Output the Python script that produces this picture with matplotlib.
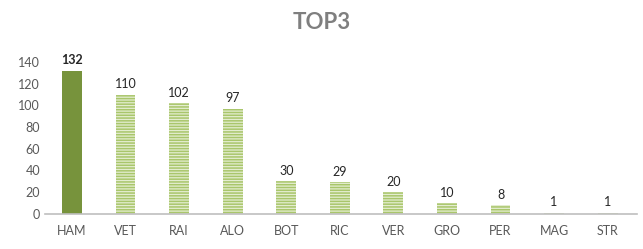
import matplotlib
matplotlib.use('Agg')
import matplotlib.pyplot as plt

# data
pilotes = ['HAM', 'VET', 'RAI', 'ALO', 'BOT', 'RIC', 'VER', 'GRO', 'PER', 'MAG', 'STR']
points = [132, 110, 102, 97, 30, 29, 20, 10, 8, 1, 1]
yticks = [0, 20, 40, 60, 80, 100, 120, 140]

plt.rcParams['font.family'] = ['Lato', 'DejaVu Sans']
plt.rcParams['hatch.linewidth'] = 1.1

fig = plt.figure(figsize=(6.43, 2.49), dpi=100)
ax = fig.add_axes([0.07, 0.141, 0.92, 0.61])

x = list(range(len(pilotes)))
for i, (p, v) in enumerate(zip(pilotes, points)):
    if i == 0:
        ax.bar(i, v, width=0.37, color='#77933c', edgecolor='#77933c', linewidth=0)
        ax.text(i, v + 4, str(v), ha='center', va='bottom', fontsize=9,
                fontweight='bold', color='#262626', clip_on=False)
    else:
        ax.bar(i, v, width=0.37, color='#e4edd0', edgecolor='#a9c66b',
               hatch='------', linewidth=0)
        ax.text(i, v + 4, str(v), ha='center', va='bottom', fontsize=9,
                color='#262626', clip_on=False)

ax.set_xlim(-0.504, 10.54)
ax.set_ylim(0, 140)
ax.set_yticks(yticks)
ax.set_xticks(x)
ax.set_xticklabels(pilotes)
ax.tick_params(axis='both', length=0, labelsize=9, colors='#595959')
ax.tick_params(axis='x', pad=8)
for s in ['top', 'right', 'left']:
    ax.spines[s].set_visible(False)
ax.spines['bottom'].set_color('#bfbfbf')
ax.spines['bottom'].set_linewidth(1.2)

fig.text(0.5, 0.91, 'TOP3', ha='center', va='center', fontsize=16,
         fontweight='bold', color='#7f7f7f')

fig.savefig('out.png', dpi=100)
